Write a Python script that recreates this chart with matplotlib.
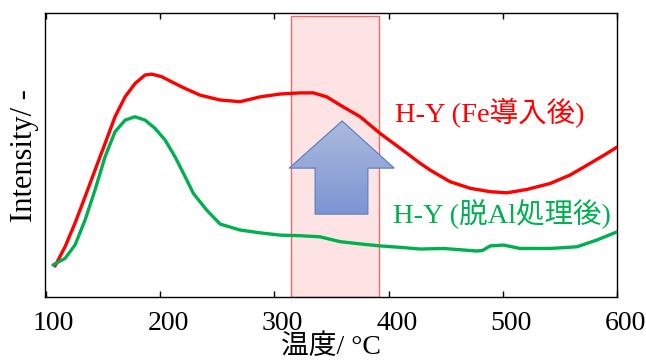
import numpy as np
import matplotlib
matplotlib.use("Agg")
import matplotlib.pyplot as plt
import matplotlib.transforms as mtransforms
from matplotlib.patches import Polygon

plt.rcParams['font.family'] = ['Liberation Serif', 'Noto Sans CJK JP', 'DejaVu Sans']

# 温度 (°C) と強度 (任意単位) - H-Y (Fe導入後)
temp_fe = [108.2, 117.0, 125.7, 134.5, 143.2, 152.0, 160.7, 169.5, 178.2, 187.0,
           192.8, 201.6, 210.3, 219.1, 235.1, 252.6, 270.1, 287.6, 305.1, 322.6,
           334.2, 345.9, 357.6, 375.1, 392.6, 410.1, 427.6, 436.3, 453.8, 471.3,
           488.8, 503.4, 520.9, 541.3, 558.8, 576.3, 590.9, 600.0]
int_fe = [10.9, 17.7, 26.0, 35.3, 44.7, 54.1, 63.5, 70.5, 75.2, 78.2,
          78.5, 77.6, 75.8, 74.0, 71.1, 69.4, 68.8, 70.5, 71.5, 71.9,
          71.9, 70.5, 67.6, 63.5, 57.6, 52.4, 47.1, 44.7, 40.6, 38.3,
          37.1, 36.7, 37.9, 40.0, 43.0, 47.1, 50.6, 52.9]

# H-Y (脱Al処理後)
temp_dealu = [106.5, 117.0, 125.7, 134.5, 143.2, 152.0, 160.7, 169.5, 178.2, 187.0,
              195.7, 204.5, 213.2, 222.0, 229.2, 240.9, 252.6, 270.1, 287.6, 305.1,
              322.6, 340.1, 357.6, 375.1, 392.6, 410.1, 427.6, 447.9, 477.2, 482.0,
              488.8, 500.4, 515.0, 541.3, 564.7, 582.2, 600.0]
int_dealu = [11.3, 13.6, 18.3, 27.1, 37.7, 49.4, 58.2, 62.3, 63.5, 62.3,
             59.4, 55.3, 49.4, 42.4, 36.5, 30.6, 25.7, 23.6, 22.6, 21.8,
             21.6, 21.2, 19.5, 18.7, 18.0, 17.5, 16.9, 17.1, 16.2, 16.4,
             18.0, 18.3, 17.1, 17.1, 17.7, 20.1, 23.0]

window = (314.7, 391.7)
xticks = [100, 200, 300, 400, 500, 600]

fig = plt.figure(figsize=(6.46, 3.64), dpi=100)
ax = fig.add_axes([0.0697, 0.184, 0.886, 0.78])

# 注目領域
ax.axvspan(window[0], window[1], ymin=0, ymax=0.989,
           facecolor='#fde3e3', edgecolor='#f06a6a', linewidth=1.0, zorder=1)

ax.plot(temp_fe, int_fe, color='#ff0000', lw=2.4, zorder=3,
        solid_joinstyle='round', solid_capstyle='round')
ax.plot(temp_dealu, int_dealu, color='#00b050', lw=2.4, zorder=3,
        solid_joinstyle='round', solid_capstyle='round')

# 上向き矢印 (グラデーション)
arrow_xy = [(359.3, 62.0), (404.8, 45.4), (381.8, 45.4), (381.8, 29.2),
            (335.7, 29.2), (335.7, 45.4), (313.0, 45.4)]
poly = Polygon(arrow_xy, closed=True, facecolor='none', edgecolor='#5f82c6',
               linewidth=0.9, zorder=5)
ax.add_patch(poly)
top = np.array([172, 186, 222]) / 255
bot = np.array([124, 149, 210]) / 255
t = np.linspace(0, 1, 100)[:, None]
grad = (top * (1 - t) + bot * t)[:, None, :]
im = ax.imshow(grad, extent=[313.0, 404.8, 29.2, 62.0], aspect='auto',
               origin='upper', zorder=4, interpolation='bilinear')
im.set_clip_path(poly)

ax.text(405.6, 64.8, 'H-Y (Fe導入後)', color='#ff0000', fontsize=20.5,
        va='center', ha='left', zorder=6)
ax.text(404.0, 29.2, 'H-Y (脱Al処理後)', color='#00b050', fontsize=20.5,
        va='center', ha='left', zorder=6)

ax.set_xlim(99.5, 600)
ax.set_ylim(0, 100)
ax.set_xticks(xticks)
ax.set_yticks([])
ax.tick_params(axis='x', direction='in', top=True, length=4, width=1,
               labelsize=20, pad=10)
# 目盛ラベルは少し右にずれている
shift = mtransforms.ScaledTranslation(8 / 100, 0, fig.dpi_scale_trans)
for lab in ax.get_xticklabels():
    lab.set_transform(lab.get_transform() + shift)
for s in ax.spines.values():
    s.set_linewidth(1.0)
ax.set_ylabel('Intensity/ -', fontsize=22, labelpad=4)
ax.set_xlabel('温度/ °C', fontsize=20, labelpad=-1)

fig.savefig('out.png', dpi=100)
